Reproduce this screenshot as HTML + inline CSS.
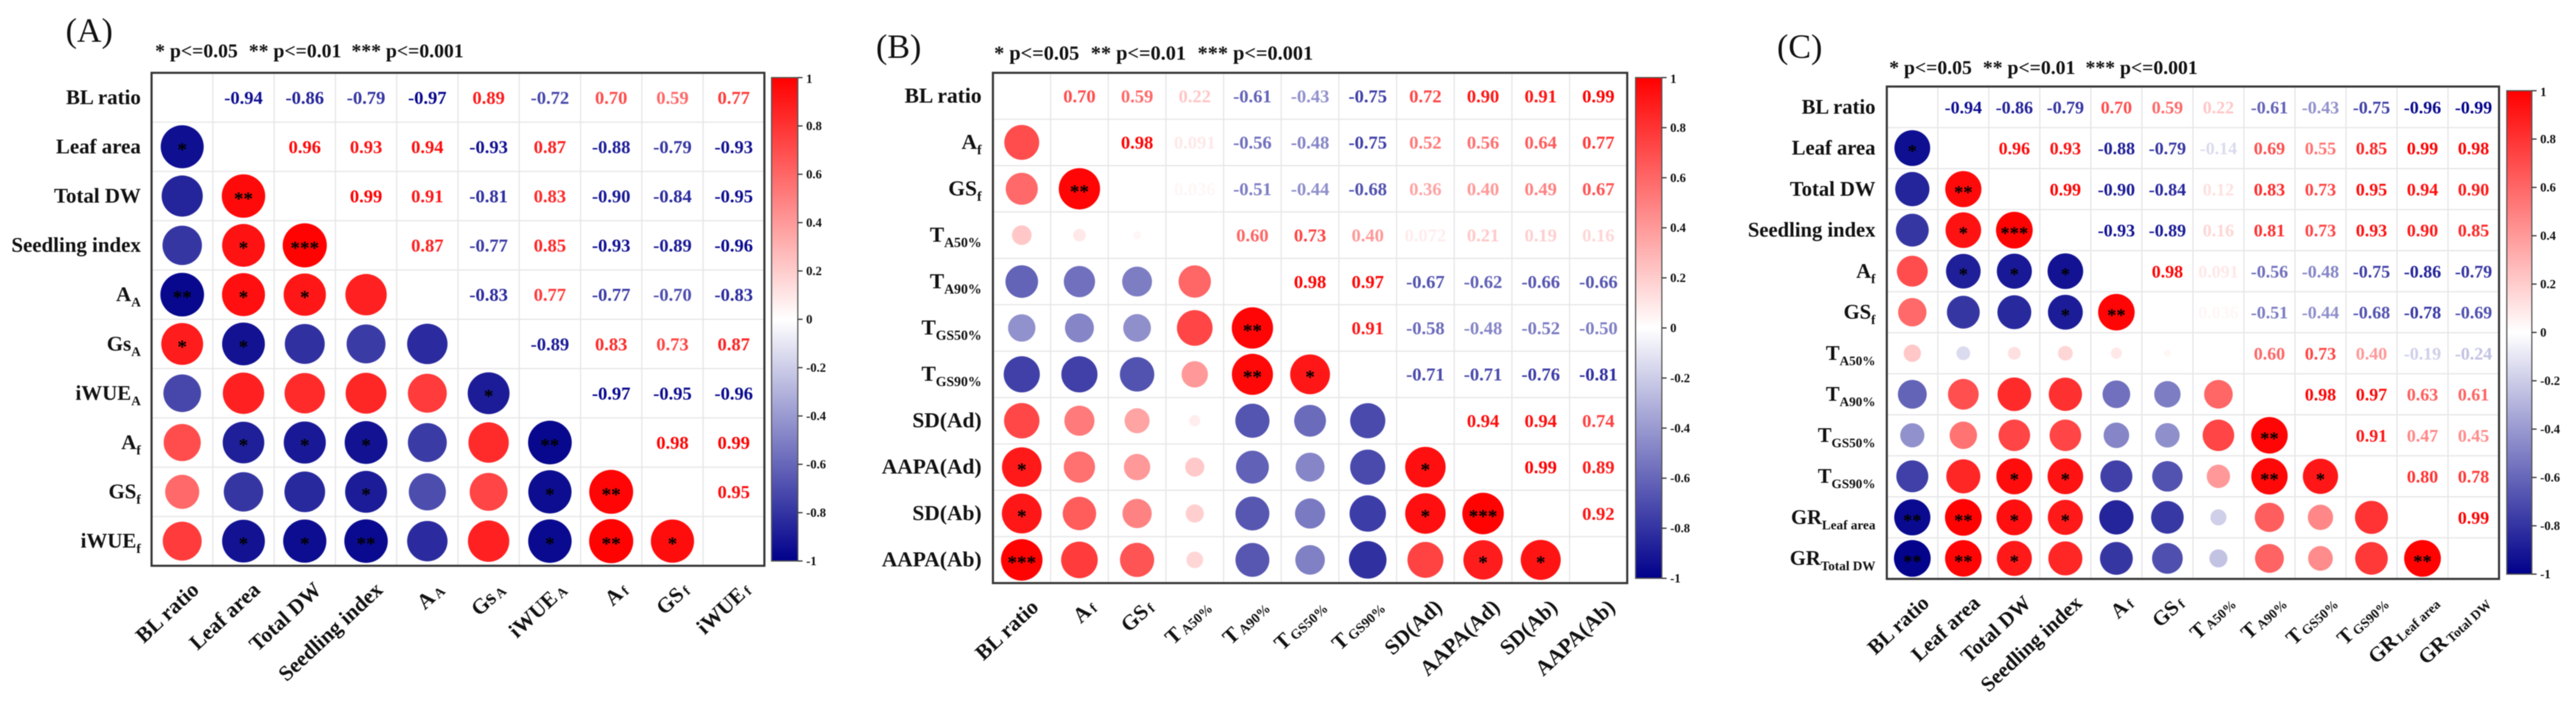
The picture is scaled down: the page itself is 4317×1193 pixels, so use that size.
<!DOCTYPE html>
<html lang="en">
<head>
<meta charset="utf-8">
<title>Correlation matrices (A), (B), (C)</title>
<style>
  html, body { margin: 0; padding: 0; background: #fff; }
  svg { display: block; filter: blur(0.7px); }
  text { font-family: "Liberation Serif", serif; font-weight: bold; fill: #111; }
  .panel-title { font-weight: normal; }
</style>
</head>
<body>
<svg id="figure" xmlns="http://www.w3.org/2000/svg" width="4317" height="1193" viewBox="0 0 4317 1193">
  <defs>
    <linearGradient id="corr-gradient" x1="0" y1="0" x2="0" y2="1">
      <stop offset="0" stop-color="#ff0000"/>
      <stop offset="0.5" stop-color="#ffffff"/>
      <stop offset="1" stop-color="#00008b"/>
    </linearGradient>
  </defs>
  <g id="panel-a">
    <text class="panel-title" x="110" y="70" font-size="57">(A)</text>
    <g font-size="33">
      <text x="260" y="96">* p&lt;=0.05</text>
      <text x="417" y="96">** p&lt;=0.01</text>
      <text x="589" y="96">*** p&lt;=0.001</text>
    </g>
  </g>
  <g id="panel-b">
    <text class="panel-title" x="1468" y="97" font-size="57">(B)</text>
    <g font-size="34">
      <text x="1666" y="100">* p&lt;=0.05</text>
      <text x="1828" y="100">** p&lt;=0.01</text>
      <text x="2007" y="100">*** p&lt;=0.001</text>
    </g>
  </g>
  <g id="panel-c">
    <text class="panel-title" x="2978" y="97" font-size="57">(C)</text>
    <g font-size="33">
      <text x="3166" y="124">* p&lt;=0.05</text>
      <text x="3323" y="124">** p&lt;=0.01</text>
      <text x="3495" y="124">*** p&lt;=0.001</text>
    </g>
  </g>
</svg>
<script>
// ---------- Data ----------
const colorbarTicks = [1, 0.8, 0.6, 0.4, 0.2, 0, -0.2, -0.4, -0.6, -0.8, -1];

const panelALabels = [["BL ratio"], ["Leaf area"], ["Total DW"], ["Seedling index"], ["A", "A"], ["Gs", "A"], ["iWUE", "A"], ["A", "f"], ["GS", "f"], ["iWUE", "f"]];
const panelAValues = [
  ["-0.94", "-0.86", "-0.79", "-0.97", "0.89", "-0.72", "0.70", "0.59", "0.77"],
  ["0.96", "0.93", "0.94", "-0.93", "0.87", "-0.88", "-0.79", "-0.93"],
  ["0.99", "0.91", "-0.81", "0.83", "-0.90", "-0.84", "-0.95"],
  ["0.87", "-0.77", "0.85", "-0.93", "-0.89", "-0.96"],
  ["-0.83", "0.77", "-0.77", "-0.70", "-0.83"],
  ["-0.89", "0.83", "0.73", "0.87"],
  ["-0.97", "-0.95", "-0.96"],
  ["0.98", "0.99"],
  ["0.95"]
];
const panelAStars = [
  [],
  [1],
  [0, 2],
  [0, 1, 3],
  [2, 1, 1, 0],
  [1, 1, 0, 0, 0],
  [0, 0, 0, 0, 0, 1],
  [0, 1, 1, 1, 0, 0, 2],
  [0, 0, 0, 1, 0, 0, 1, 2],
  [0, 1, 1, 2, 0, 0, 1, 2, 1]
];

const panelBLabels = [["BL ratio"], ["A", "f"], ["GS", "f"], ["T", "A50%"], ["T", "A90%"], ["T", "GS50%"], ["T", "GS90%"], ["SD(Ad)"], ["AAPA(Ad)"], ["SD(Ab)"], ["AAPA(Ab)"]];
const panelBValues = [
  ["0.70", "0.59", "0.22", "-0.61", "-0.43", "-0.75", "0.72", "0.90", "0.91", "0.99"],
  ["0.98", "0.091", "-0.56", "-0.48", "-0.75", "0.52", "0.56", "0.64", "0.77"],
  ["0.036", "-0.51", "-0.44", "-0.68", "0.36", "0.40", "0.49", "0.67"],
  ["0.60", "0.73", "0.40", "0.072", "0.21", "0.19", "0.16"],
  ["0.98", "0.97", "-0.67", "-0.62", "-0.66", "-0.66"],
  ["0.91", "-0.58", "-0.48", "-0.52", "-0.50"],
  ["-0.71", "-0.71", "-0.76", "-0.81"],
  ["0.94", "0.94", "0.74"],
  ["0.99", "0.89"],
  ["0.92"]
];
const panelBStars = [
  [],
  [0],
  [0, 2],
  [0, 0, 0],
  [0, 0, 0, 0],
  [0, 0, 0, 0, 2],
  [0, 0, 0, 0, 2, 1],
  [0, 0, 0, 0, 0, 0, 0],
  [1, 0, 0, 0, 0, 0, 0, 1],
  [1, 0, 0, 0, 0, 0, 0, 1, 3],
  [3, 0, 0, 0, 0, 0, 0, 0, 1, 1]
];

const panelCLabels = [["BL ratio"], ["Leaf area"], ["Total DW"], ["Seedling index"], ["A", "f"], ["GS", "f"], ["T", "A50%"], ["T", "A90%"], ["T", "GS50%"], ["T", "GS90%"], ["GR", "Leaf area"], ["GR", "Total DW"]];
const panelCValues = [
  ["-0.94", "-0.86", "-0.79", "0.70", "0.59", "0.22", "-0.61", "-0.43", "-0.75", "-0.96", "-0.99"],
  ["0.96", "0.93", "-0.88", "-0.79", "-0.14", "0.69", "0.55", "0.85", "0.99", "0.98"],
  ["0.99", "-0.90", "-0.84", "0.12", "0.83", "0.73", "0.95", "0.94", "0.90"],
  ["-0.93", "-0.89", "0.16", "0.81", "0.73", "0.93", "0.90", "0.85"],
  ["0.98", "0.091", "-0.56", "-0.48", "-0.75", "-0.86", "-0.79"],
  ["0.036", "-0.51", "-0.44", "-0.68", "-0.78", "-0.69"],
  ["0.60", "0.73", "0.40", "-0.19", "-0.24"],
  ["0.98", "0.97", "0.63", "0.61"],
  ["0.91", "0.47", "0.45"],
  ["0.80", "0.78"],
  ["0.99"]
];
const panelCStars = [
  [],
  [1],
  [0, 2],
  [0, 1, 3],
  [0, 1, 1, 1],
  [0, 0, 0, 1, 2],
  [0, 0, 0, 0, 0, 0],
  [0, 0, 0, 0, 0, 0, 0],
  [0, 0, 0, 0, 0, 0, 0, 2],
  [0, 0, 1, 1, 0, 0, 0, 2, 1],
  [2, 2, 1, 1, 0, 0, 0, 0, 0, 0],
  [2, 2, 1, 0, 0, 0, 0, 0, 0, 0, 2]
];

// ---------- Layout of each panel ----------
const panels = [
  { id: "panel-a", labels: panelALabels, values: panelAValues, stars: panelAStars,
    left: 254, right: 1281, top: 122, bottom: 948, labelRight: 236, labelSize: 35, valueSize: 31,
    barLeft: 1293, barRight: 1337, barTop: 130, barBottom: 940, xLabelSize: 36 },
  { id: "panel-b", labels: panelBLabels, values: panelBValues, stars: panelBStars,
    left: 1664, right: 2727, top: 122, bottom: 977, labelRight: 1645, labelSize: 36, valueSize: 31,
    barLeft: 2741, barRight: 2785, barTop: 130, barBottom: 969, xLabelSize: 36 },
  { id: "panel-c", labels: panelCLabels, values: panelCValues, stars: panelCStars,
    left: 3162, right: 4188, top: 145, bottom: 970, labelRight: 3143, labelSize: 34.5, valueSize: 30,
    barLeft: 4201, barRight: 4243, barTop: 152, barBottom: 962, xLabelSize: 35 }
];

const SVG_NS = "http://www.w3.org/2000/svg";

function make(parent, tag, attrs) {
  const node = document.createElementNS(SVG_NS, tag);
  for (const key in attrs) node.setAttribute(key, attrs[key]);
  parent.appendChild(node);
  return node;
}

// Colour scale: -1 navy, 0 white, +1 red
function corrColor(v) {
  const t = Math.min(1, Math.abs(v));
  if (v >= 0) {
    const c = Math.round(255 * (1 - t));
    return "rgb(255," + c + "," + c + ")";
  }
  const c = Math.round(255 * (1 - t));
  const b = Math.round(255 - (255 - 139) * t);
  return "rgb(" + c + "," + c + "," + b + ")";
}

function addLabel(group, spec, x, y, size, transform, anchorEnd, subDy, subDx) {
  const el = make(group, "text", { x: x, y: y, "font-size": size, "text-anchor": anchorEnd ? "end" : "middle" });
  if (transform) el.setAttribute("transform", transform);
  const main = make(el, "tspan", {});
  main.textContent = spec[0];
  if (spec[1]) {
    const sub = make(el, "tspan", { dy: subDy, dx: subDx, "font-size": size * 0.64 });
    sub.textContent = spec[1];
  }
  return el;
}

function drawPanel(p) {
  const root = document.getElementById(p.id);
  const n = p.labels.length;
  const cw = (p.right - p.left) / n;
  const ch = (p.bottom - p.top) / n;
  const xCenter = function (i) { return p.left + cw * (i + 0.5); };
  const yCenter = function (i) { return p.top + ch * (i + 0.5); };
  const maxRadius = 0.45 * Math.min(cw, ch);
  const radius = function (v) { return maxRadius * Math.sqrt(Math.abs(v)); };
  const barY = function (v) { return p.barTop + (1 - v) / 2 * (p.barBottom - p.barTop); };

  // grid
  const grid = make(root, "g", { stroke: "#e6e6e8", "stroke-width": 2 });
  
  
  for (let i = 1; i < n; i++) {
    make(grid, "line", { x1: p.left + cw * i, x2: p.left + cw * i, y1: p.top, y2: p.bottom });
    make(grid, "line", { x1: p.left, x2: p.right, y1: p.top + ch * i, y2: p.top + ch * i });
  }

  // row and column labels
  p.labels.forEach(function (spec, i) {
    const rowLabel = addLabel(root, spec, p.labelRight, yCenter(i) + 11, p.labelSize, null, true, 9, 0);
    
    

    const ax = xCenter(i) + 30;
    const ay = p.bottom + 43;
    const colLabel = addLabel(root, spec, ax, ay, p.xLabelSize, "rotate(-43 " + ax + " " + ay + ")", true, 2, 4);
    
    
  });

  // cells: numbers above the diagonal, circles and stars below it
  p.values.forEach(function (row, r) {
    row.forEach(function (text, k) {
      const c = r + 1 + k;
      const v = parseFloat(text);

      const valueText = make(root, "text", {
        x: xCenter(c), y: yCenter(r) + 10.5, "font-size": p.valueSize,
        "text-anchor": "middle"
      });
      valueText.style.fill = corrColor(v);
      valueText.textContent = text;
      
      

      const circle = make(root, "circle", {
        cx: xCenter(r), cy: yCenter(c), r: radius(v), fill: corrColor(v)
      });
      
      

      const count = (p.stars[c] && p.stars[c][r]) || 0;
      if (count > 0) {
        const star = make(root, "text", {
          x: xCenter(r), y: yCenter(c) + 15, "font-size": p.valueSize + 1,
          "text-anchor": "middle"
        });
        star.style.fill = "#000";
        star.textContent = "*".repeat(count);
        
        
      }
    });
  });

  // frame
  const frame = make(root, "rect", {
    x: p.left, y: p.top, width: p.right - p.left, height: p.bottom - p.top,
    fill: "none", stroke: "#333", "stroke-width": 3.5
  });
  
  

  // colour bar
  const bar = make(root, "rect", {
    x: p.barLeft, y: p.barTop, width: p.barRight - p.barLeft, height: p.barBottom - p.barTop,
    fill: "url(#corr-gradient)", stroke: "#555", "stroke-width": 2
  });
  
  

  colorbarTicks.forEach(function (t) {
    const tick = make(root, "line", {
      x1: p.barRight, x2: p.barRight + 8, y1: barY(t), y2: barY(t), stroke: "#333", "stroke-width": 2
    });
    
    

    const tickLabel = make(root, "text", {
      x: p.barRight + 14, y: barY(t) + 7 + (t === 1 ? 2 : 0), "font-size": 21
    });
    tickLabel.textContent = String(t);
    
    
  });
}

panels.forEach(drawPanel);
</script>
</body>
</html>
